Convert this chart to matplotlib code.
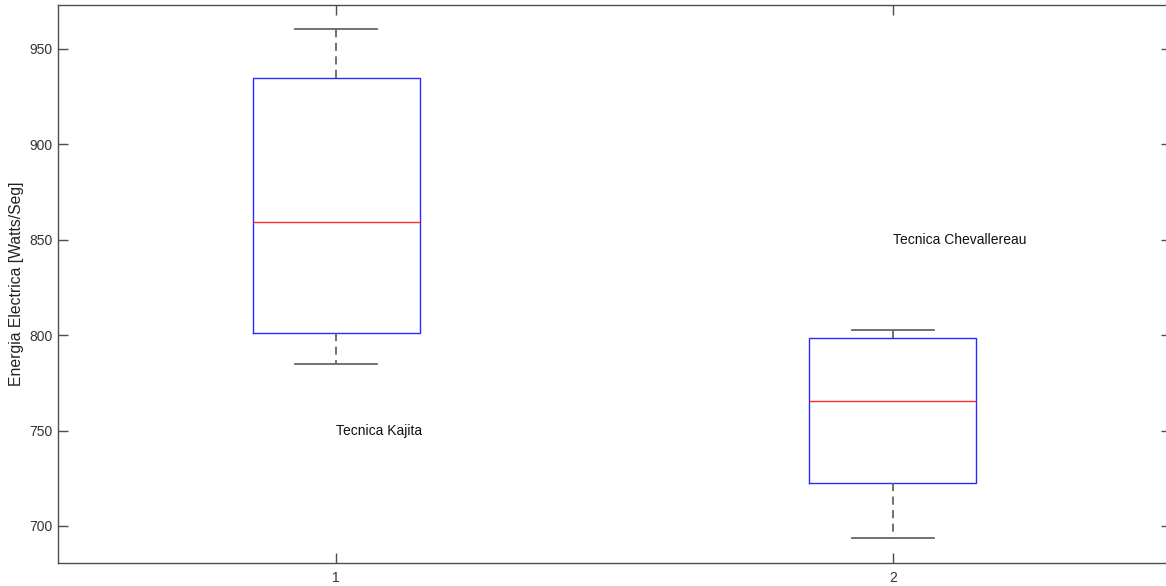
import matplotlib
matplotlib.use("Agg")
import matplotlib.pyplot as plt

plt.rcParams['font.family'] = ['Liberation Sans', 'DejaVu Sans']

# Box summary for each technique
positions = [1, 2]
tick_labels = ["1", "2"]
whisker_low = [784.7, 693.6]
q1 = [801.2, 722.4]
median = [859.3, 765.5]
q3 = [934.6, 798.5]
whisker_high = [960.3, 802.7]

annotations = ["Tecnica Kajita", "Tecnica Chevallereau"]
annotation_x = [1, 2]
annotation_y = [750, 850]

ylabel = "Energia Electrica [Watts/Seg]"
yticks = [700, 750, 800, 850, 900, 950]

stats = [
    dict(whislo=lo, q1=a, med=m, q3=b, whishi=hi, fliers=[])
    for lo, a, m, b, hi in zip(whisker_low, q1, median, q3, whisker_high)
]

fig = plt.figure(figsize=(11.66, 5.86), dpi=100)
ax = fig.add_axes([58 / 1166, 1 - 563 / 586, 1113 / 1166, 558.5 / 586])

axis_col = "#4d4d4d"
ax.bxp(
    stats, positions=positions, widths=0.3, capwidths=0.147, showfliers=False,
    boxprops=dict(color="#2a2aff", linewidth=1.0),
    medianprops=dict(color="#ff2a2a", linewidth=1.0),
    whiskerprops=dict(color="#666666", linewidth=1.3, linestyle=(0, (4.5, 3))),
    capprops=dict(color="#666666", linewidth=1.3),
)

for txt, x, y in zip(annotations, annotation_x, annotation_y):
    ax.text(x, y, txt, ha="left", va="center", fontsize=10, color="#111111")

ax.set_xlim(0.5, 2.5)
ax.set_ylim(680.6, 973.3)
ax.set_xticks(positions)
ax.set_xticklabels(tick_labels)
ax.set_yticks(yticks)
ax.set_ylabel(ylabel, fontsize=11.3, color="#222222")
ax.yaxis.set_label_coords(-0.0305, 0.5)

ax.tick_params(direction="in", length=7.5, width=1.0, color=axis_col,
               labelcolor="#333333", labelsize=10, top=True, right=True)
ax.tick_params(axis="y", pad=4)
ax.tick_params(axis="x", pad=6)
for s in ax.spines.values():
    s.set_color(axis_col)
    s.set_linewidth(1.0)

fig.savefig("out.png", dpi=100)
